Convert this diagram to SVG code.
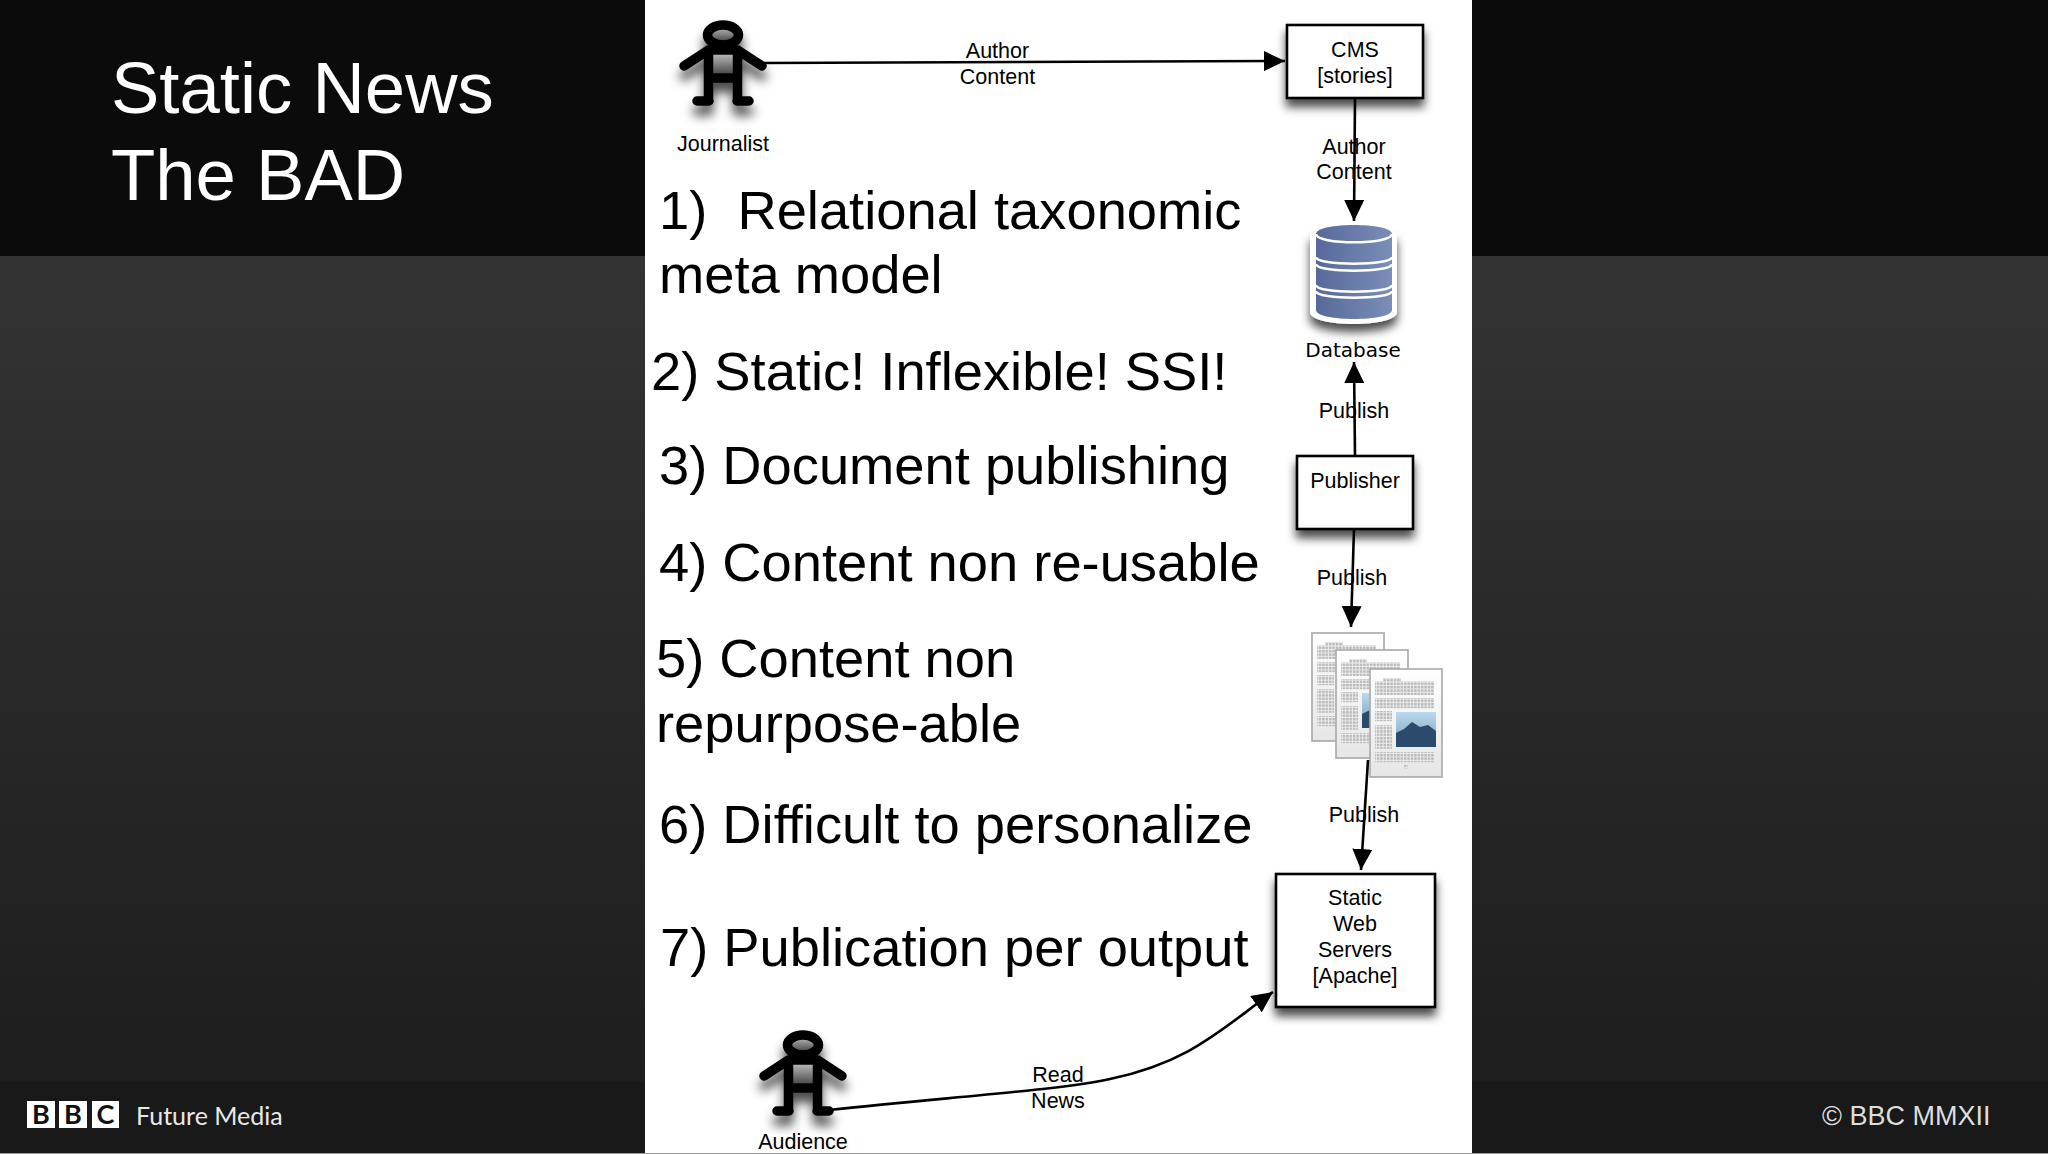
<svg xmlns="http://www.w3.org/2000/svg" width="2048" height="1154" viewBox="0 0 2048 1154">
<style>
.s{font-family:"Liberation Sans",Arial,sans-serif;font-size:21.5px;fill:#000;text-anchor:middle}
.b{font-family:"Liberation Sans",Arial,sans-serif;font-size:54.300px;fill:#000;white-space:pre}
.t{font-family:"Liberation Sans",Arial,sans-serif;font-size:72.500px;fill:#fff}
.box{fill:#fff;stroke:#000;stroke-width:2.6}
.c{fill:none;stroke:#000;stroke-width:2.6;marker-end:url(#arr)}
.blk{fill:url(#gridp)}
.fig{fill:none;stroke:#000;stroke-width:9.500;stroke-linecap:round}
.white-arc{fill:none;stroke:#fff;stroke-width:2.6}
.bbcs{fill:#fff}
.bbcl{font-family:"Lato","Open Sans",sans-serif;font-weight:700;font-size:27px;fill:#111;text-anchor:middle}
</style>
<defs>
<linearGradient id="bg" x1="0" y1="0" x2="0" y2="1"><stop offset="0" stop-color="#3a3a3a"/><stop offset="1" stop-color="#1c1c1c"/></linearGradient>
<linearGradient id="metal" x1="0" y1="0" x2="0" y2="1"><stop offset="0" stop-color="#c4c4c4"/><stop offset="1" stop-color="#333"/></linearGradient>
<linearGradient id="blue" x1="0" y1="0" x2="1" y2="0"><stop offset="0" stop-color="#56699a"/><stop offset="1" stop-color="#7a8eb8"/></linearGradient>
<linearGradient id="paper" x1="0" y1="0" x2="0" y2="1"><stop offset="0" stop-color="#fff"/><stop offset="1" stop-color="#e6e6e6"/></linearGradient>
<linearGradient id="sky" x1="0" y1="0" x2="0" y2="1"><stop offset="0" stop-color="#bcd9ea"/><stop offset="1" stop-color="#6f9fbf"/></linearGradient>
<pattern id="gridp" width="3.4" height="3.4" patternUnits="userSpaceOnUse"><rect width="3.4" height="3.4" fill="#ececec"/><rect width="2.4" height="2.4" fill="#b8b8b8"/></pattern>
<marker id="arr" markerUnits="userSpaceOnUse" markerWidth="22" markerHeight="20" refX="21" refY="10" orient="auto"><path d="M0 0L21 10L0 20Z" fill="#000"/></marker>
<filter id="sh" x="-30%" y="-30%" width="160%" height="170%"><feDropShadow dx="0" dy="8" stdDeviation="5" flood-color="#000" flood-opacity=".7"/></filter>
<filter id="shf" x="-30%" y="-30%" width="160%" height="170%"><feDropShadow dx="0" dy="10" stdDeviation="5.500" flood-color="#000" flood-opacity=".7"/></filter>
<g id="figure">
<g filter="url(#shf)">
<rect x="710" y="52" width="27" height="26" fill="url(#metal)"/>
<ellipse cx="723" cy="35" rx="14" ry="9" fill="url(#metal)"/>
<ellipse cx="723" cy="35" rx="15.500" ry="10" class="fig"/>
<path class="fig" d="M708.500 50V101M737.500 50V101M708.500 78H737.500M708.500 50H737.500M708.500 50L684 66M737.500 50L762 66M697 101H709M737 101H749"/>
</g>
</g>
<g id="page">
<rect x="0" y="0" width="72" height="108" fill="url(#paper)" stroke="#a8a8a8" stroke-width="1.600"/>
<rect class="blk" x="13" y="9" width="18" height="3.400"/>
<rect class="blk" x="5" y="12.400" width="59" height="13.600"/>
<rect class="blk" x="5" y="29" width="59" height="10.200"/>
<rect class="blk" x="5" y="42" width="17" height="10.200"/>
<rect class="blk" x="5" y="56" width="17" height="23.800"/>
<rect class="blk" x="5" y="83" width="59" height="10.200"/>
<rect class="blk" x="33" y="96" width="5" height="3.400"/>
<rect x="26" y="43" width="40" height="35" fill="url(#sky)"/>
<path d="M26 78V64L34 60L42 53L50 58L58 56L66 62V78Z" fill="#2c4a6c"/>
</g>
</defs>
<rect id="background" width="2048" height="1154" fill="url(#bg)"/>
<rect id="top-band" width="2048" height="256" fill="#0b0b0b"/>
<rect id="footer-band" y="1082" width="2048" height="71" fill="#191919"/>
<rect id="panel" x="645" y="0" width="827" height="1153" fill="#fff"/>
<rect y="1153" width="2048" height="1" fill="#9a9a9a"/>
<g id="title">
<text class="t" x="111" y="113">Static News</text>
<text class="t" x="111" y="200">The BAD</text>
</g>
<g id="list">
<text class="b" x="659" y="229">1)  Relational taxonomic</text>
<text class="b" x="659" y="293">meta model</text>
<text class="b" x="651" y="390">2) Static! Inflexible! SSI!</text>
<text class="b" x="659" y="484">3) Document publishing</text>
<text class="b" x="659" y="581">4) Content non re-usable</text>
<text class="b" x="656" y="677">5) Content non</text>
<text class="b" x="656" y="742">repurpose-able</text>
<text class="b" x="659" y="843">6) Difficult to personalize</text>
<text class="b" x="660" y="966">7) Publication per output</text>
</g>
<g id="journalist">
<use href="#figure"/>
<text class="s" x="723" y="151">Journalist</text>
</g>
<g id="audience">
<use href="#figure" x="80" y="1010"/>
<text class="s" x="803" y="1149">Audience</text>
</g>
<g id="cms">
<rect class="box" x="1287" y="25" width="136" height="73" filter="url(#sh)"/>
<text class="s" x="1355" y="57">CMS</text>
<text class="s" x="1355" y="83">[stories]</text>
</g>
<g id="database">
<g filter="url(#sh)">
<path d="M1310 234C1310 228 1397 228 1397 234V312C1397 328 1310 328 1310 312Z" fill="#fff"/>
</g>
<path d="M1316 234C1316 222 1392 222 1392 234V310C1392 322 1316 322 1316 310Z" fill="url(#blue)"/>
<path class="white-arc" d="M1316 234C1316 245 1392 245 1392 234M1316 257C1316 266 1392 266 1392 257M1316 264C1316 273 1392 273 1392 264M1316 285C1316 294 1392 294 1392 285M1316 291C1316 300 1392 300 1392 291"/>
<text x="1353" y="357" font-family="'DejaVu Sans',sans-serif" font-size="20" text-anchor="middle" fill="#000">Database</text>
</g>
<g id="publisher">
<rect class="box" x="1297" y="456" width="116" height="73" filter="url(#sh)"/>
<text class="s" x="1355" y="488">Publisher</text>
</g>
<g id="documents">
<use href="#page" x="1312" y="633"/>
<use href="#page" x="1336" y="650"/>
<use href="#page" x="1370" y="669"/>
</g>
<g id="static-web-servers">
<rect class="box" x="1276" y="874" width="159" height="133" filter="url(#sh)"/>
<text class="s" x="1355" y="905">Static</text>
<text class="s" x="1355" y="931">Web</text>
<text class="s" x="1355" y="957">Servers</text>
<text class="s" x="1355" y="983">[Apache]</text>
</g>
<g id="connectors">
<path class="c" d="M764 63L1285 61"/>
<path class="c" d="M1355 98L1354 221"/>
<path class="c" d="M1355 456L1354 362"/>
<path class="c" d="M1354 529L1351 627"/>
<path class="c" d="M1368 760L1361 870"/>
<path class="c" d="M829 1110C950 1097 1060 1090 1110 1079C1190 1062 1220 1030 1273 992"/>
</g>
<g id="connector-labels">
<text class="s" x="997.500" y="58">Author</text>
<text class="s" x="997.500" y="84">Content</text>
<text class="s" x="1354" y="154">Author</text>
<text class="s" x="1354" y="179">Content</text>
<text class="s" x="1354" y="418">Publish</text>
<text class="s" x="1352" y="585">Publish</text>
<text class="s" x="1364" y="822">Publish</text>
<text class="s" x="1058" y="1082">Read</text>
<text class="s" x="1058" y="1108">News</text>
</g>
<g id="footer">
<rect class="bbcs" x="27" y="1101" width="28" height="27"/>
<rect class="bbcs" x="59" y="1101" width="28" height="27"/>
<rect class="bbcs" x="92" y="1101" width="27" height="27"/>
<text class="bbcl" x="41" y="1124">B</text>
<text class="bbcl" x="73" y="1124">B</text>
<text class="bbcl" x="105.500" y="1124">C</text>
<text x="136" y="1125" font-family="Lato,'Open Sans',sans-serif" font-size="25px" fill="#e8e8e8">Future Media</text>
<text x="1822" y="1125" font-family="'Liberation Sans',Arial,sans-serif" font-size="27px" fill="#dedede">© BBC MMXII</text>
</g>
</svg>
